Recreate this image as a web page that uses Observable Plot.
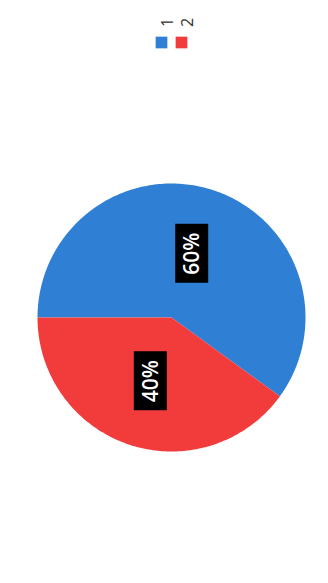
<!DOCTYPE html>
<html>
<head>
<meta charset="utf-8">
<script src="https://cdn.jsdelivr.net/npm/d3@7"></script>
<script src="https://cdn.jsdelivr.net/npm/@observablehq/plot@0.6"></script>
<style>
  html, body { margin: 0; padding: 0; background: #fff; }
  #wrap { position: relative; width: 328px; height: 583px; overflow: hidden; }
  #wrap svg { position: absolute; left: 0; top: 0; display: block; }
</style>
</head>
<body>
<div id="wrap"></div>
<script>
// ---- data ----
const categories = ["1", "2"];
const values = [60, 40];
const colors = ["#2f80d5", "#f23b3b"];

// ---- derived geometry (chart is shown rotated 90° counter-clockwise) ----
const pie = d3.pie().sort(null).value(d => d.value)
  (categories.map((c, i) => ({category: c, value: values[i]})));
const total = d3.sum(values);
// d3 angle (clockwise from 12 o'clock) -> rotated display angle (math, y up)
const toTheta = a => Math.PI - a;

const slicePoints = [];
pie.forEach(p => {
  const n = Math.max(2, Math.ceil((p.endAngle - p.startAngle) / (Math.PI / 180)));
  slicePoints.push({category: p.data.category, x: 0, y: 0});
  for (let k = 0; k <= n; ++k) {
    const a = p.startAngle + (p.endAngle - p.startAngle) * k / n;
    const t = toTheta(a);
    slicePoints.push({category: p.data.category, x: Math.cos(t), y: Math.sin(t)});
  }
  slicePoints.push({category: p.data.category, x: 0, y: 0});
});

const labels = pie.map(p => {
  const t = toTheta((p.startAngle + p.endAngle) / 2);
  return {
    category: p.data.category,
    x: 0.5 * Math.cos(t),
    y: 0.5 * Math.sin(t),
    text: Math.round(p.data.value / total * 100) + "%"
  };
});

const R = 134; // radius in px
const boxHalfW = 16.5 / R, boxHalfH = 29.5 / R;

const chart = Plot.plot({
  width: 328,
  height: 583,
  margin: 0,
  style: {background: "transparent"},
  x: {domain: [-1, 1], range: [171 - R, 171 + R], axis: null},
  y: {domain: [-1, 1], range: [317 + R, 317 - R], axis: null},
  color: {domain: categories, range: colors},
  marks: [
    Plot.line(slicePoints, {x: "x", y: "y", z: "category", fill: "category", stroke: "none", curve: "linear"}),
    Plot.rect(labels, {
      x1: d => d.x - boxHalfW, x2: d => d.x + boxHalfW,
      y1: d => d.y - boxHalfH, y2: d => d.y + boxHalfH,
      fill: "#000"
    }),
    Plot.text(labels, {
      x: "x", y: "y", text: "text", rotate: -90,
      fill: "#fff", fontSize: 21, fontWeight: 600,
      fontFamily: "'Open Sans', sans-serif"
    })
  ]
});

const legend = Plot.plot({
  width: 328,
  height: 60,
  margin: 0,
  style: {background: "transparent"},
  x: {type: "point", domain: categories, range: [151, 191], axis: null},
  color: {domain: categories, range: colors},
  marks: [
    Plot.dot(categories, {x: d => d, frameAnchor: "top", dy: 42, symbol: "square", r: 6.6, fill: d => d, stroke: "none"}),
    Plot.text(categories, {x: d => d, frameAnchor: "top", dy: 22, text: d => d, rotate: -90,
      fill: "#333", fontSize: 16, fontFamily: "'Open Sans', sans-serif"})
  ]
});

const wrap = document.getElementById("wrap");
wrap.appendChild(chart);
wrap.appendChild(legend);
</script>
</body>
</html>
